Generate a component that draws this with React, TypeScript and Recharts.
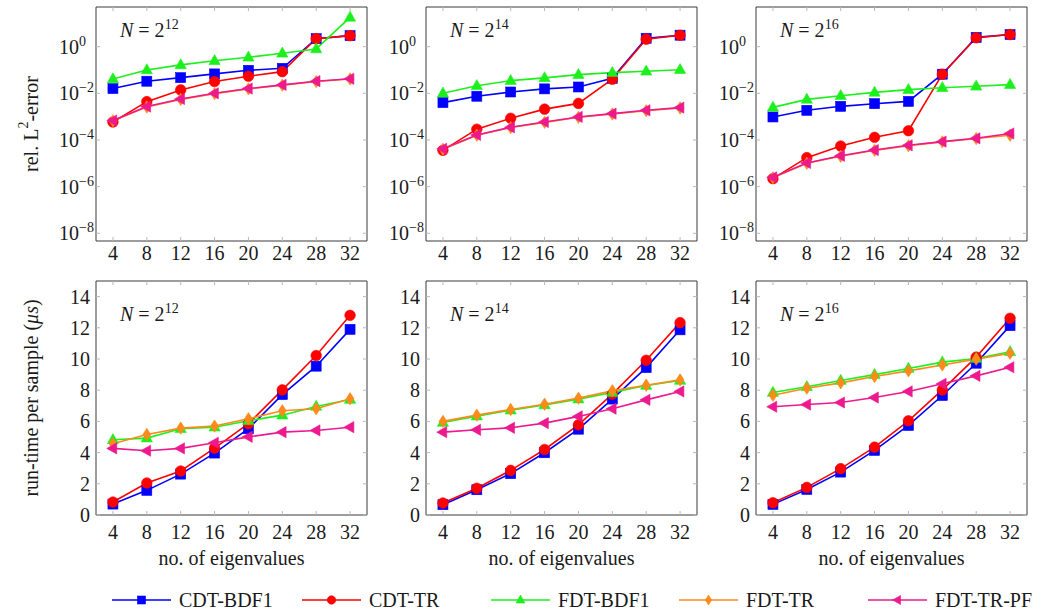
import React from 'react';
import { LineChart, Line, XAxis, YAxis, ReferenceLine } from 'recharts';

const eigenvalues = [4, 8, 12, 16, 20, 24, 28, 32];
const errTicks = [1e-8, 1e-6, 1e-4, 1e-2, 1];
const errTickExp = ['−8', '−6', '−4', '−2', '0'];
const timeTicks = [0, 2, 4, 6, 8, 10, 12, 14];

// rel. L2-error, N = 2^12
const err12CdtBdf1 = [0.016, 0.033, 0.047, 0.068, 0.097, 0.118, 2.2, 2.96];
const err12CdtTr = [5.9e-4, 4.4e-3, 0.014, 0.032, 0.054, 0.085, 2.2, 2.96];
const err12FdtBdf1 = [0.041, 0.1, 0.165, 0.25, 0.35, 0.52, 0.8, 18];
const err12FdtTr = [6.6e-4, 2.6e-3, 5.5e-3, 0.0097, 0.0155, 0.0225, 0.032, 0.041];
const err12FdtTrPf = [6.8e-4, 2.7e-3, 5.7e-3, 0.01, 0.016, 0.023, 0.033, 0.042];

// rel. L2-error, N = 2^14
const err14CdtBdf1 = [0.004, 0.0075, 0.0114, 0.0155, 0.0187, 0.044, 2.29, 3.1];
const err14CdtTr = [3.6e-5, 2.9e-4, 8.5e-4, 2.1e-3, 3.7e-3, 0.04, 2.1, 3.1];
const err14FdtBdf1 = [0.01, 0.021, 0.035, 0.046, 0.063, 0.077, 0.088, 0.103];
const err14FdtTr = [4.0e-5, 1.6e-4, 3.4e-4, 5.7e-4, 9.4e-4, 1.3e-3, 1.8e-3, 2.35e-3];
const err14FdtTrPf = [4.2e-5, 1.65e-4, 3.5e-4, 5.9e-4, 9.7e-4, 1.35e-3, 1.87e-3, 2.44e-3];

// rel. L2-error, N = 2^16
const err16CdtBdf1 = [9.7e-4, 1.87e-3, 2.77e-3, 3.6e-3, 4.5e-3, 0.066, 2.5, 3.3];
const err16CdtTr = [2.2e-6, 1.75e-5, 5.5e-5, 1.3e-4, 2.5e-4, 0.066, 2.4, 3.3];
const err16FdtBdf1 = [2.5e-3, 5.5e-3, 7.9e-3, 0.011, 0.0144, 0.0174, 0.02, 0.0235];
const err16FdtTr = [2.4e-6, 1.0e-5, 2.0e-5, 3.6e-5, 5.7e-5, 8.3e-5, 1.15e-4, 1.6e-4];
const err16FdtTrPf = [2.5e-6, 1.03e-5, 2.1e-5, 3.7e-5, 5.9e-5, 8.5e-5, 1.18e-4, 1.9e-4];

// run-time per sample (us), N = 2^12
const time12CdtBdf1 = [0.7, 1.58, 2.62, 3.97, 5.53, 7.72, 9.54, 11.9];
const time12CdtTr = [0.83, 2.05, 2.82, 4.29, 5.85, 8.02, 10.22, 12.8];
const time12FdtBdf1 = [4.82, 4.93, 5.53, 5.63, 6.04, 6.4, 6.96, 7.4];
const time12FdtTr = [4.57, 5.16, 5.57, 5.7, 6.17, 6.68, 6.81, 7.45];
const time12FdtTrPf = [4.27, 4.12, 4.27, 4.63, 5.01, 5.31, 5.42, 5.63];

// run-time per sample (us), N = 2^14
const time14CdtBdf1 = [0.66, 1.62, 2.65, 3.99, 5.5, 7.43, 9.45, 11.87];
const time14CdtTr = [0.77, 1.71, 2.86, 4.2, 5.78, 7.75, 9.92, 12.33];
const time14FdtBdf1 = [5.93, 6.34, 6.72, 7.06, 7.43, 7.85, 8.3, 8.62];
const time14FdtTr = [6.0, 6.4, 6.76, 7.1, 7.49, 7.96, 8.32, 8.66];
const time14FdtTrPf = [5.31, 5.46, 5.59, 5.89, 6.32, 6.81, 7.38, 7.92];

// run-time per sample (us), N = 2^16
const time16CdtBdf1 = [0.68, 1.64, 2.75, 4.14, 5.74, 7.66, 9.73, 12.14];
const time16CdtTr = [0.79, 1.77, 2.97, 4.35, 6.04, 8.02, 10.12, 12.61];
const time16FdtBdf1 = [7.85, 8.22, 8.62, 9.0, 9.39, 9.8, 10.03, 10.46];
const time16FdtTr = [7.68, 8.13, 8.47, 8.88, 9.24, 9.62, 9.99, 10.37];
const time16FdtTrPf = [6.94, 7.08, 7.21, 7.53, 7.92, 8.41, 8.92, 9.47];

const seriesNames = ['CDT-BDF1', 'CDT-TR', 'FDT-BDF1', 'FDT-TR', 'FDT-TR-PF'];
const seriesKeys = ['cdtBdf1', 'cdtTr', 'fdtBdf1', 'fdtTr', 'fdtTrPf'];
const seriesColors = ['#0000ff', '#ff0000', '#1cf01c', '#ff8a1c', '#ec1a8e'];
const seriesShapes = ['square', 'circle', 'triangle', 'diamond', 'left'];

const buildRows = (cols: number[][]) =>
  eigenvalues.map((x, i) => {
    const row: any = { x };
    seriesKeys.forEach((k, j) => (row[k] = cols[j][i]));
    return row;
  });

const err12 = buildRows([err12CdtBdf1, err12CdtTr, err12FdtBdf1, err12FdtTr, err12FdtTrPf]);
const err14 = buildRows([err14CdtBdf1, err14CdtTr, err14FdtBdf1, err14FdtTr, err14FdtTrPf]);
const err16 = buildRows([err16CdtBdf1, err16CdtTr, err16FdtBdf1, err16FdtTr, err16FdtTrPf]);
const time12 = buildRows([time12CdtBdf1, time12CdtTr, time12FdtBdf1, time12FdtTr, time12FdtTrPf]);
const time14 = buildRows([time14CdtBdf1, time14CdtTr, time14FdtBdf1, time14FdtTr, time14FdtTrPf]);
const time16 = buildRows([time16CdtBdf1, time16CdtTr, time16FdtBdf1, time16FdtTr, time16FdtTrPf]);

const FONT = '"Liberation Serif", "Times New Roman", serif';
const TXT = '#1a1a1a';
const BOX = '#3a3a3a';
const TICK = '#b8b8b8';
const W = 271;
const H = 234;

function markerShape(shape: string, cx: number, cy: number, color: string, s: number, key?: any) {
  const common = { fill: color, stroke: color, strokeWidth: 0.6, key };
  switch (shape) {
    case 'square':
      return <rect {...common} x={cx - 5 * s} y={cy - 5 * s} width={10 * s} height={10 * s} />;
    case 'circle':
      return <circle {...common} cx={cx} cy={cy} r={5.3 * s} />;
    case 'triangle':
      return (
        <polygon
          {...common}
          points={`${cx},${cy - 6.2 * s} ${cx + 5.6 * s},${cy + 3.8 * s} ${cx - 5.6 * s},${cy + 3.8 * s}`}
        />
      );
    case 'diamond':
      return (
        <polygon
          {...common}
          points={`${cx},${cy - 6.2 * s} ${cx + 4 * s},${cy} ${cx},${cy + 6.2 * s} ${cx - 4 * s},${cy}`}
        />
      );
    default:
      return (
        <polygon
          {...common}
          points={`${cx - 6.2 * s},${cy} ${cx + 3.8 * s},${cy - 5.6 * s} ${cx + 3.8 * s},${cy + 5.6 * s}`}
        />
      );
  }
}

const makeDot = (shape: string, color: string) => (p: any) => {
  if (p.cx == null || p.cy == null) return <g key={p.index} />;
  return markerShape(shape, p.cx, p.cy, color, 1, `d-${p.index}`);
};

const XTick = (props: any) => {
  const { x, y, payload, labelDy } = props;
  return (
    <g>
      <line x1={x} x2={x} y1={y} y2={y - 4} stroke={TICK} strokeWidth={1} />
      <line x1={x} x2={x} y1={y - H} y2={y - H + 4} stroke={TICK} strokeWidth={1} />
      <text x={x} y={y + labelDy} textAnchor="middle" fontFamily={FONT} fontSize={20} fill={TXT}>
        {payload.value}
      </text>
    </g>
  );
};

const YTickLog = (props: any) => {
  const { x, y, payload, index } = props;
  const exp = errTickExp[errTicks.indexOf(payload.value)] ?? errTickExp[index];
  return (
    <g>
      <line x1={x} x2={x + 4} y1={y} y2={y} stroke={TICK} strokeWidth={1} />
      <line x1={x + W} x2={x + W - 4} y1={y} y2={y} stroke={TICK} strokeWidth={1} />
      <text x={x - 37} y={y + 7} textAnchor="start" fontFamily={FONT} fontSize={20} fill={TXT}>
        <tspan>10</tspan>
        <tspan dy={-8} fontSize={14}>
          {exp}
        </tspan>
      </text>
    </g>
  );
};

const YTickLin = (props: any) => {
  const { x, y, payload } = props;
  return (
    <g>
      <line x1={x} x2={x + 4} y1={y} y2={y} stroke={TICK} strokeWidth={1} />
      <line x1={x + W} x2={x + W - 4} y1={y} y2={y} stroke={TICK} strokeWidth={1} />
      <text x={x - 6} y={y + 7} textAnchor="end" fontFamily={FONT} fontSize={20} fill={TXT}>
        {payload.value}
      </text>
    </g>
  );
};

const ERR_MIN = Math.pow(10, -8.33);
const ERR_MAX = Math.pow(10, 1.7);

function Panel(props: { left: number; top: number; data: any[]; kind: 'err' | 'time'; labelDy: number }) {
  const { left, top, data, kind, labelDy } = props;
  const mL = 60;
  const mT = 10;
  const mR = 10;
  const bottomH = 40;
  const isErr = kind === 'err';
  const yMax = isErr ? ERR_MAX : 15;
  return (
    <div style={{ position: 'absolute', left: left - mL, top: top - mT }}>
      <LineChart
        width={mL + W + mR}
        height={mT + H + bottomH}
        data={data}
        margin={{ top: mT, right: mR, left: 0, bottom: 0 }}
      >
        <XAxis
          dataKey="x"
          type="number"
          domain={[2, 34]}
          ticks={eigenvalues}
          interval={0}
          allowDataOverflow
          height={bottomH}
          tickSize={0}
          tickMargin={0}
          tickLine={false}
          axisLine={{ stroke: BOX, strokeWidth: 1 }}
          tick={<XTick labelDy={labelDy} />}
        />
        <YAxis
          type="number"
          scale={isErr ? 'log' : 'linear'}
          domain={isErr ? [ERR_MIN, ERR_MAX] : [0, 15]}
          allowDataOverflow
          ticks={isErr ? errTicks : timeTicks}
          interval={0}
          width={mL}
          tickSize={0}
          tickMargin={0}
          tickLine={false}
          axisLine={{ stroke: BOX, strokeWidth: 1 }}
          tick={isErr ? <YTickLog /> : <YTickLin />}
        />
        <ReferenceLine x={34} stroke={BOX} strokeWidth={1} />
        <ReferenceLine y={yMax} stroke={BOX} strokeWidth={1} />
        {seriesKeys.map((k, j) => (
          <Line
            key={k}
            dataKey={k}
            name={seriesNames[j]}
            stroke={seriesColors[j]}
            strokeWidth={1.6}
            dot={makeDot(seriesShapes[j], seriesColors[j])}
            activeDot={false}
            isAnimationActive={false}
          />
        ))}
      </LineChart>
    </div>
  );
}

const colLefts = [96, 426, 756];
const rowTops = [7, 281];
const titleExps = ['12', '14', '16'];
const legendLineStarts = [112, 302, 491, 679, 868];

export default function App() {
  const errData = [err12, err14, err16];
  const timeData = [time12, time14, time16];
  return (
    <div
      style={{
        position: 'absolute',
        left: 0,
        top: 0,
        width: 1043,
        height: 614,
        background: '#fff',
        overflow: 'hidden',
      }}
    >
      {colLefts.map((l, i) => (
        <Panel key={`e${i}`} left={l} top={rowTops[0]} data={errData[i]} kind="err" labelDy={19} />
      ))}
      {colLefts.map((l, i) => (
        <Panel key={`t${i}`} left={l} top={rowTops[1]} data={timeData[i]} kind="time" labelDy={24} />
      ))}
      <svg
        width={1043}
        height={614}
        style={{ position: 'absolute', left: 0, top: 0, pointerEvents: 'none' }}
        fontFamily={FONT}
        fill={TXT}
      >
        {colLefts.map((l, i) => (
          <g key={`title${i}`}>
            <text x={l + 24} y={rowTops[0] + 30} fontSize={20}>
              <tspan fontStyle="italic">N</tspan>
              <tspan> = 2</tspan>
              <tspan dy={-8} fontSize={14}>
                {titleExps[i]}
              </tspan>
            </text>
            <text x={l + 24} y={rowTops[1] + 40} fontSize={20}>
              <tspan fontStyle="italic">N</tspan>
              <tspan> = 2</tspan>
              <tspan dy={-8} fontSize={14}>
                {titleExps[i]}
              </tspan>
            </text>
            <text x={l + W / 2} y={565} fontSize={20} textAnchor="middle">
              no. of eigenvalues
            </text>
          </g>
        ))}
        <text
          x={31}
          y={rowTops[0] + H / 2}
          fontSize={20}
          textAnchor="middle"
          dominantBaseline="central"
          transform={`rotate(-90 31 ${rowTops[0] + H / 2})`}
        >
          <tspan>rel. L</tspan>
          <tspan dy={-8} fontSize={14}>
            2
          </tspan>
          <tspan dy={8}>-error</tspan>
        </text>
        <text
          x={31}
          y={rowTops[1] + H / 2}
          fontSize={20}
          textAnchor="middle"
          dominantBaseline="central"
          transform={`rotate(-90 31 ${rowTops[1] + H / 2})`}
        >
          <tspan>run-time per sample (</tspan>
          <tspan fontStyle="italic">μs</tspan>
          <tspan>)</tspan>
        </text>
        {seriesNames.map((name, j) => {
          const x0 = legendLineStarts[j];
          const cy = 600;
          return (
            <g key={name}>
              <line x1={x0} x2={x0 + 59} y1={cy} y2={cy} stroke={seriesColors[j]} strokeWidth={1.6} />
              {markerShape(seriesShapes[j], x0 + 29.5, cy, seriesColors[j], 0.8)}
              <text x={x0 + 67} y={cy + 7} fontSize={20}>
                {name}
              </text>
            </g>
          );
        })}
      </svg>
    </div>
  );
}
